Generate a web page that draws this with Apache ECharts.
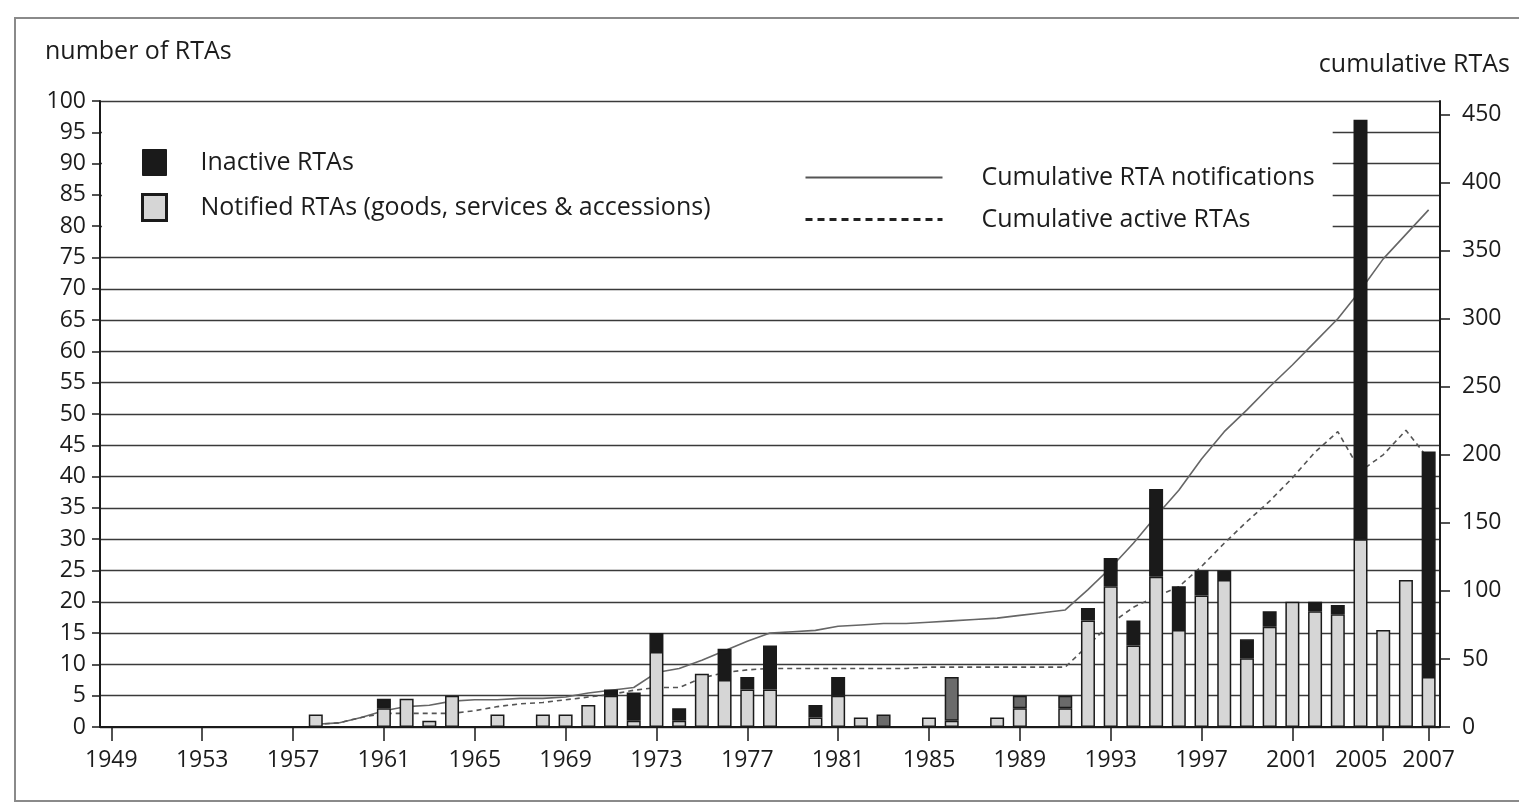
<!DOCTYPE html>
<html>
<head>
<meta charset="utf-8">
<script src="https://cdn.jsdelivr.net/npm/echarts@6/dist/echarts.min.js"></script>
<style>
html,body{margin:0;padding:0;background:#fff;overflow:hidden;}
#chart{width:1519px;height:808px;}
#frame{position:absolute;left:14px;top:17px;width:1510px;height:781px;border:2px solid #8a8a8a;pointer-events:none;}
</style>
</head>
<body>
<div id="chart"></div>
<div id="frame"></div>
<script>
const years = ['1949','1950','1951','1952','1953','1954','1955','1956','1957','1958',
  '1959','1960','1961','1962','1963','1964','1965','1966','1967','1968',
  '1969','1970','1971','1972','1973','1974','1975','1976','1977','1978',
  '1979','1980','1981','1982','1983','1984','1985','1986','1987','1988',
  '1989','1990','1991','1992','1993','1994','1995','1996','1997','1998',
  '1999','2000','2001','2002','2003','2004','2005','2006','2007'];

const yearLabels = ['1949','1953','1957','1961','1965','1969','1973','1977','1981',
  '1985','1989','1993','1997','2001','2005','2007'];

// Notified RTAs (goods, services & accessions) - light part of each bar
const notified = [null,null,null,null,null,null,null,null,null,
  2,null,null,3,4.5,1,5,null,2,null,
  2,2,3.5,5,1,12,1,8.5,7.5,6,
  6,null,1.5,5,1.5,null,null,1.5,1,null,
  1.5,3,null,3,17,22.5,13,24,15.5,21,
  23.5,11,16,20,18.5,18,30,15.5,23.5,8];

// Inactive RTAs - dark top part of each bar
const inactive = [null,null,null,null,null,null,null,null,null,
  null,null,null,1.5,null,null,null,null,null,null,
  null,null,null,1,4.5,3,2,null,5,2,
  7,null,2,3,null,2,null,null,7,null,
  null,2,null,2,2,4.5,4,14,7,4,
  1.5,3,2.5,null,1.5,1.5,67,null,null,36];

// Cumulative RTA notifications (right axis)
const cumNotifications = [null,null,null,null,null,null,null,null,null,
  2,3,7,12,15,16,19,20,20,21,
  21,22,25,27,29,40,43,49,56,63,
  69,70,71,74,75,76,76,77,78,79,
  80,82,84,86,101,117,135,155,174,197,
  217,233,250,266,283,300,321,344,362,380];

// Cumulative active RTAs (right axis)
const cumActive = [null,null,null,null,null,null,null,null,null,
  2,3,7,10,10,10,10,12,15,17,
  18,20,22,24,27,29,29,36,40,42,
  43,43,43,43,43,43,43,44,44,44,
  44,44,44,44,60,76,88,96,103,118,
  135,151,166,183,202,217,188,200,218,197];

const greyInactiveYears = ['1983','1986','1989','1991'];

const FONT = '"Open Sans", "Noto Sans", sans-serif';
const INK = '#1c1c1c';
const NAME_NOTIFIED = 'Notified RTAs (goods, services & accessions)';
const NAME_INACTIVE = 'Inactive RTAs';
const NAME_CUMN = 'Cumulative RTA notifications';
const NAME_CUMA = 'Cumulative active RTAs';

const chart = echarts.init(document.getElementById('chart'), null, {renderer:'canvas'});
const showYear = (i, v) => yearLabels.indexOf(v) !== -1;
const noSymbol = {color: 'rgba(0,0,0,0)', borderWidth: 0, opacity: 0};

chart.setOption({
  animation: false,
  backgroundColor: '#fff',
  textStyle: {fontFamily: FONT, color: INK},
  grid: {left: 100, right: 79, top: 101, bottom: 81, containLabel: false, outerBoundsMode: 'none'},
  legend: [
    {
      z: 1, left: 102, top: 103, orient: 'vertical', selectedMode: false,
      backgroundColor: '#fff', padding: [46, 90, 28, 39],
      itemWidth: 24, itemHeight: 26, itemGap: 17, icon: 'rect',
      textStyle: {fontFamily: FONT, fontSize: 25, color: INK, padding: [0, 0, 0, 29]},
      data: [
        {name: NAME_INACTIVE, itemStyle: {color: '#1a1a1a', borderColor: '#1a1a1a', borderWidth: 1}},
        {name: NAME_NOTIFIED, itemStyle: {color: '#d6d6d6', borderColor: '#1a1a1a', borderWidth: 3}}
      ]
    },
    {
      z: 1, left: 770, top: 103, orient: 'vertical', selectedMode: false,
      backgroundColor: '#fff', padding: [62, 18, 16, 34],
      itemWidth: 137, itemHeight: 26, itemGap: 17,
      textStyle: {fontFamily: FONT, fontSize: 25, color: INK, padding: [0, 0, 0, 34]},
      data: [
        {name: NAME_CUMN, lineStyle: {color: '#555', width: 2, type: 'solid'}, itemStyle: noSymbol},
        {name: NAME_CUMA, lineStyle: {color: '#222', width: 3, type: [7, 5]}, itemStyle: noSymbol}
      ]
    }
  ],
  xAxis: {
    type: 'category', data: years, boundaryGap: true,
    axisLine: {show: true, lineStyle: {color: '#1a1a1a', width: 2}},
    axisTick: {show: true, alignWithLabel: true, length: 14, interval: showYear,
      lineStyle: {color: '#1a1a1a', width: 1.5}},
    axisLabel: {
      interval: showYear, showMaxLabel: true, hideOverlap: false,
      fontFamily: FONT, fontSize: 23, color: INK, margin: 22,
      formatter: v => v === '2005' ? '{shift|' + v + '}' : v,
      rich: {shift: {fontFamily: FONT, fontSize: 23, color: INK, padding: [0, 44, 0, 0]}}
    },
    splitLine: {show: false}
  },
  yAxis: [
    {
      type: 'value', min: 0, max: 100, interval: 5, position: 'left',
      name: 'number of RTAs', nameLocation: 'end', nameGap: 49,
      nameTextStyle: {fontFamily: FONT, fontSize: 25, color: INK, align: 'left', verticalAlign: 'middle', padding: [0, 0, 0, -55]},
      axisLine: {show: true, lineStyle: {color: '#1a1a1a', width: 2}},
      axisTick: {show: true, length: 8, lineStyle: {color: '#1a1a1a', width: 1.5}},
      axisLabel: {fontFamily: FONT, fontSize: 23, color: INK, margin: 14},
      splitLine: {show: true, lineStyle: {color: '#3a3a3a', width: 1.3}}
    },
    {
      type: 'value', min: 0, max: 460, interval: 50, position: 'right',
      name: 'cumulative RTAs', nameLocation: 'end', nameGap: 36,
      nameTextStyle: {fontFamily: FONT, fontSize: 25, color: INK, align: 'right', verticalAlign: 'middle', padding: [0, -70, 0, 0]},
      axisLine: {show: true, lineStyle: {color: '#1a1a1a', width: 2}},
      axisTick: {show: true, length: 10, lineStyle: {color: '#1a1a1a', width: 1.5}},
      axisLabel: {fontFamily: FONT, fontSize: 23, color: INK, margin: 22, showMaxLabel: false},
      splitLine: {show: false}
    }
  ],
  series: [
    {
      name: NAME_NOTIFIED, type: 'bar', stack: 'rta', data: notified, barWidth: 14, z: 3,
      itemStyle: {color: '#d6d6d6', borderColor: '#1a1a1a', borderWidth: 1.5}
    },
    {
      name: NAME_INACTIVE, type: 'bar', stack: 'rta', data: inactive, barWidth: 14, z: 3,
      itemStyle: {
        color: p => greyInactiveYears.indexOf(p.name) !== -1 ? '#6b6b6b' : '#1a1a1a',
        borderColor: '#1a1a1a', borderWidth: 1.5
      }
    },
    {
      name: NAME_CUMN, type: 'line', yAxisIndex: 1, data: cumNotifications, symbol: 'none', z: 2,
      lineStyle: {color: '#666', width: 1.6}, itemStyle: {color: '#666'}
    },
    {
      name: NAME_CUMA, type: 'line', yAxisIndex: 1, data: cumActive, symbol: 'none', z: 2,
      lineStyle: {color: '#555', width: 1.6, type: [5, 4]}, itemStyle: {color: '#555'}
    }
  ]
});
</script>
</body>
</html>
